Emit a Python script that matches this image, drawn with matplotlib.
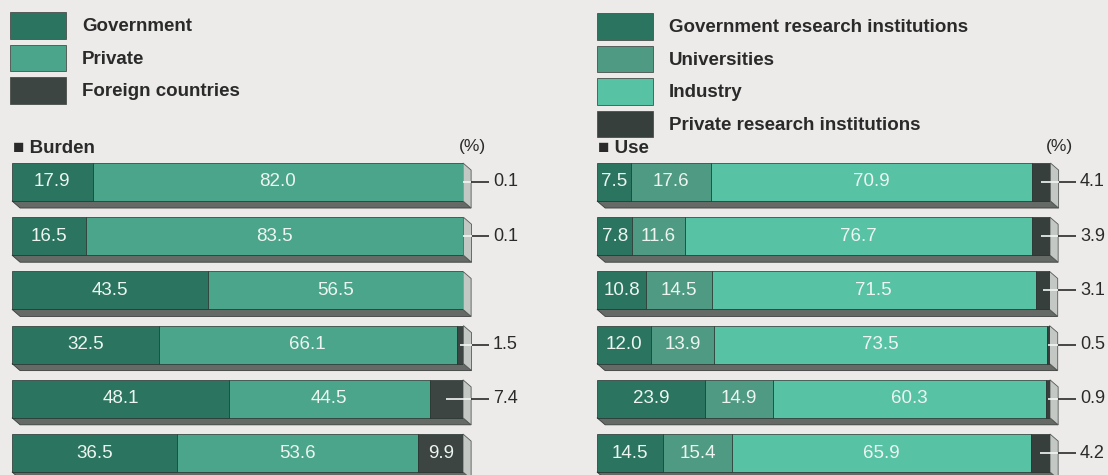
import matplotlib
matplotlib.use('agg')
import matplotlib.pyplot as plt
from matplotlib.patches import Polygon, Patch

# Burden (who pays), % per row
burden_names = ["Government", "Private", "Foreign countries"]
burden_gov = [17.9, 16.5, 43.5, 32.5, 48.1, 36.5]
burden_priv = [82.0, 83.5, 56.5, 66.1, 44.5, 53.6]
burden_foreign = [0.1, 0.1, 0.0, 1.5, 7.4, 9.9]

# Use (who spends), % per row
use_names = ["Government research institutions", "Universities",
             "Industry", "Private research institutions"]
use_gov = [7.5, 7.8, 10.8, 12.0, 23.9, 14.5]
use_univ = [17.6, 11.6, 14.5, 13.9, 14.9, 15.4]
use_ind = [70.9, 76.7, 71.5, 73.5, 60.3, 65.9]
use_priv = [4.1, 3.9, 3.1, 0.5, 0.9, 4.2]

W, H = 1108, 475
BG = '#ecebe9'
FONT = ['Liberation Sans', 'DejaVu Sans']
plt.rcParams['font.family'] = FONT

burden_colors = ['#2b7560', '#4aa58a', '#3d4542']
use_colors = ['#2b7560', '#4f9a82', '#58c2a4', '#373f3d']

BAR_H = 0.70
DX, DY = 1.8, 0.13   # extrusion offset in data units


def draw_panel(ax, series, colors, title):
    n = len(series[0])
    rows = list(range(n))
    lefts = [0.0] * n
    totals = [sum(s[i] for s in series) for i in rows]

    # 3D-ish bottom and side faces
    for i in rows:
        top, bot = i - BAR_H / 2, i + BAR_H / 2
        t = totals[i]
        ax.add_patch(Polygon([(0, bot), (t, bot), (t + DX, bot + DY), (DX, bot + DY)],
                             closed=True, facecolor='#656a67', edgecolor='#3a3d3b',
                             linewidth=0.6, zorder=1, clip_on=False))
        ax.add_patch(Polygon([(t, top), (t + DX, top + DY), (t + DX, bot + DY), (t, bot)],
                             closed=True, facecolor='#c3c8c5', edgecolor='#555a57',
                             linewidth=0.6, zorder=1, clip_on=False))

    for k, (vals, col) in enumerate(zip(series, colors)):
        ax.barh(rows, vals, left=lefts, height=BAR_H, color=col,
                edgecolor='#26312d', linewidth=0.5, zorder=2)
        last = k == len(series) - 1
        for i, v in enumerate(vals):
            if v <= 0:
                continue
            cx = lefts[i] + v / 2
            if last and v < 8:
                # leader line out to the right
                ax.plot([cx, totals[i] + DX], [i, i], color='#f4f7f5', lw=1.2,
                        zorder=4, clip_on=False, solid_capstyle='butt')
                ax.plot([totals[i] + DX, 105.8], [i, i], color='#2a2a2a', lw=1.2,
                        zorder=4, clip_on=False, solid_capstyle='butt')
                ax.text(106.6, i, f"{v:.1f}", ha='left', va='center',
                        fontsize=13, color='#2a2a2a', clip_on=False)
            else:
                ax.text(cx, i, f"{v:.1f}", ha='center', va='center',
                        fontsize=13.5, color='#eef5f1', zorder=5)
        lefts = [l + v for l, v in zip(lefts, vals)]

    ax.text(0.3, -0.62, "\u25a0 " + title, ha='left', va='center', fontsize=13.5,
            fontweight='bold', color='#2a2a2a', clip_on=False)
    ax.text(102, -0.66, "(%)", ha='center', va='center', fontsize=12.5,
            color='#2a2a2a', clip_on=False)

    ax.set_xlim(0, 100)
    ax.set_ylim(n - 0.5, -0.5)
    ax.axis('off')


fig = plt.figure(figsize=(W / 100, H / 100), dpi=100, facecolor=BG)

ax_top = 154.9 / H
ax_h = 325.2 / H
ax1 = fig.add_axes([12 / W, 1 - ax_top - ax_h, 451 / W, ax_h])
ax2 = fig.add_axes([597 / W, 1 - ax_top - ax_h, 453 / W, ax_h])
for ax in (ax1, ax2):
    ax.set_facecolor('none')

draw_panel(ax1, [burden_gov, burden_priv, burden_foreign], burden_colors, "Burden")
draw_panel(ax2, [use_gov, use_univ, use_ind, use_priv], use_colors, "Use")

# Legends
leg_kw = dict(loc='upper left', frameon=False, borderpad=0, borderaxespad=0,
              handlelength=3.0, handleheight=1.8, labelspacing=0.32,
              handletextpad=0.85, prop={'family': FONT, 'weight': 'bold', 'size': 13.5})
h1 = [Patch(facecolor=c, edgecolor='#4a4f4c', linewidth=0.6) for c in burden_colors]
leg1 = fig.legend(h1, burden_names, bbox_to_anchor=(10 / W, 1 - 12 / H), **leg_kw)
h2 = [Patch(facecolor=c, edgecolor='#4a4f4c', linewidth=0.6) for c in use_colors]
leg2 = fig.legend(h2, use_names, bbox_to_anchor=(597 / W, 1 - 13 / H), **leg_kw)
for leg in (leg1, leg2):
    for t in leg.get_texts():
        t.set_color('#2a2a2a')

fig.savefig('out.png', dpi=100, facecolor=BG)
